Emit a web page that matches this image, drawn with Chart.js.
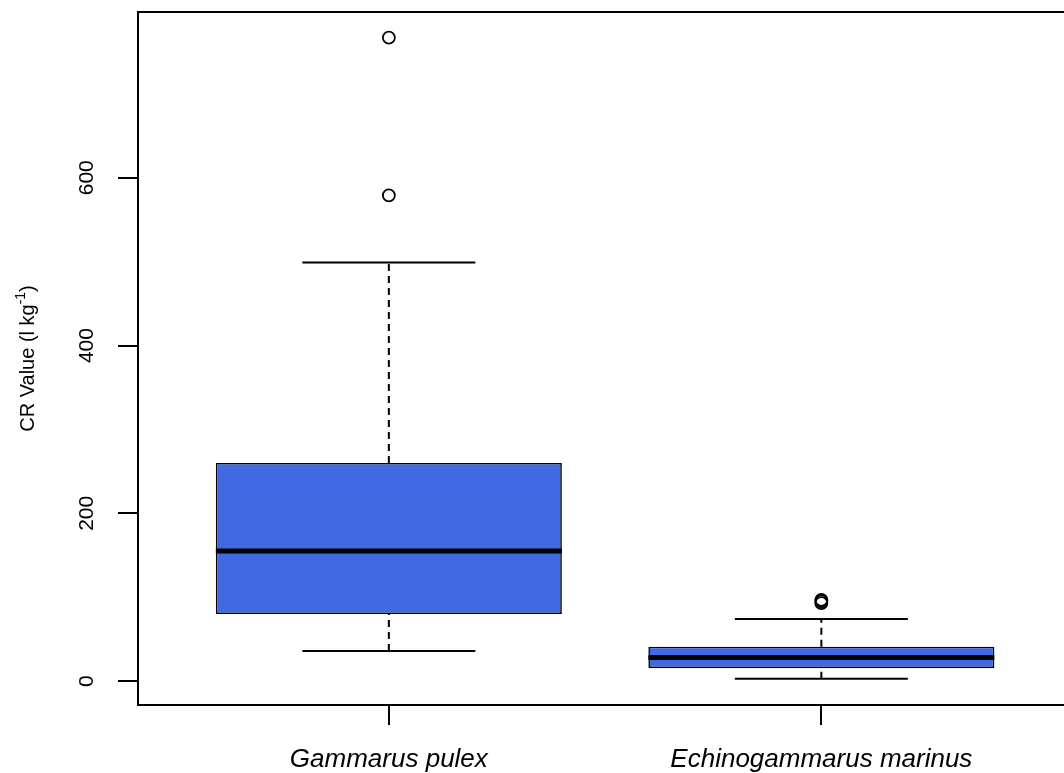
<!DOCTYPE html>
<html>
<head>
<meta charset="utf-8">
<script src="https://cdn.jsdelivr.net/npm/chart.js@4"></script>
<style>
html,body{margin:0;padding:0;background:#fff;overflow:hidden;width:1064px;height:773px;}
canvas{display:block;}
</style>
</head>
<body>
<canvas id="c" width="1080" height="773"></canvas>
<script>
const categories = ['Gammarus pulex', 'Echinogammarus marinus'];
const positions = [1, 2];
const lowerWhisker = [36, 3];
const q1 = [80, 15.5];
const median = [155, 28.2];
const q3 = [260, 41];
const upperWhisker = [499, 74];
const outliers = [[579, 767], [93, 95, 97]];
const yTicks = [0, 200, 400, 600];
const yTitle = 'CR Value (l kg';
const yTitleSup = '-1';

const FONT = '"Liberation Sans", Arial, sans-serif';
const BLUE = '#4169E1';

const datasets = [];
datasets.push({
  type: 'bar',
  data: positions.map((x, i) => ({x: x, y: [q1[i], q3[i]]})),
  backgroundColor: BLUE,
  borderColor: '#000',
  borderWidth: 1.6,
  borderSkipped: false,
  barPercentage: 0.8,
  categoryPercentage: 1.0,
  order: 10
});
positions.forEach((x, i) => {
  const lineBase = {type: 'line', pointRadius: 0, borderColor: '#000', fill: false, order: 1, borderCapStyle: 'butt'};
  datasets.push(Object.assign({}, lineBase, {data: [{x: x - 0.4, y: median[i]}, {x: x + 0.4, y: median[i]}], borderWidth: 5}));
  datasets.push(Object.assign({}, lineBase, {data: [{x: x - 0.2, y: lowerWhisker[i]}, {x: x + 0.2, y: lowerWhisker[i]}], borderWidth: 2}));
  datasets.push(Object.assign({}, lineBase, {data: [{x: x - 0.2, y: upperWhisker[i]}, {x: x + 0.2, y: upperWhisker[i]}], borderWidth: 2}));
  datasets.push(Object.assign({}, lineBase, {data: [{x: x, y: q3[i]}, {x: x, y: upperWhisker[i]}], borderWidth: 2, borderDash: [7, 5]}));
  datasets.push(Object.assign({}, lineBase, {data: [{x: x, y: lowerWhisker[i]}, {x: x, y: q1[i]}], borderWidth: 2, borderDash: [7, 5]}));
  datasets.push({
    type: 'scatter',
    data: outliers[i].map(v => ({x: x, y: v})),
    pointRadius: 6,
    pointStyle: 'circle',
    pointBackgroundColor: 'rgba(255,255,255,0)',
    pointBorderColor: '#000',
    pointBorderWidth: 1.8,
    showLine: false,
    order: 0
  });
});

const framePlugin = {
  id: 'frame',
  afterDraw(chart) {
    const ctx = chart.ctx, a = chart.chartArea;
    ctx.save();
    ctx.strokeStyle = '#000';
    ctx.lineWidth = 2;
    ctx.strokeRect(a.left, a.top, a.right - a.left, a.bottom - a.top);
    // y tick labels, rotated as in R
    const ys = chart.scales.y;
    ctx.fillStyle = '#000';
    ctx.font = '21px ' + FONT;
    ctx.textAlign = 'center';
    ctx.textBaseline = 'middle';
    yTicks.forEach(v => {
      const py = ys.getPixelForValue(v);
      ctx.save();
      ctx.translate(87, py);
      ctx.rotate(-Math.PI / 2);
      ctx.fillText(String(v), 0, 0);
      ctx.restore();
    });
    // y title with superscript
    ctx.save();
    const cy = (a.top + a.bottom) / 2;
    ctx.translate(28, cy);
    ctx.rotate(-Math.PI / 2);
    ctx.font = '20px ' + FONT;
    const w1 = ctx.measureText(yTitle).width;
    ctx.font = '14px ' + FONT;
    const w2 = ctx.measureText(yTitleSup).width;
    ctx.font = '20px ' + FONT;
    const w3 = ctx.measureText(')').width;
    const total = w1 + w2 + w3;
    let xx = -total / 2;
    ctx.textAlign = 'left';
    ctx.fillText(yTitle, xx, 0);
    xx += w1;
    ctx.font = '14px ' + FONT;
    ctx.fillText(yTitleSup, xx, -7);
    xx += w2;
    ctx.font = '20px ' + FONT;
    ctx.fillText(')', xx, 0);
    ctx.restore();
    ctx.restore();
  }
};

new Chart(document.getElementById('c'), {
  type: 'bar',
  data: {datasets: datasets},
  options: {
    responsive: false,
    animation: false,
    devicePixelRatio: 1,
    layout: {padding: {top: 12, right: 7, left: 0, bottom: 0}},
    plugins: {legend: {display: false}, tooltip: {enabled: false}},
    scales: {
      x: {
        type: 'linear',
        min: 0.42,
        max: 2.58,
        offset: false,
        afterBuildTicks: s => { s.ticks = positions.map(v => ({value: v})); },
        afterFit: s => { s.height = 68; },
        grid: {display: true, offset: false, drawOnChartArea: false, drawTicks: true, tickLength: 20, color: '#000', lineWidth: 2},
        border: {display: false},
        ticks: {
          callback: (v) => categories[positions.indexOf(v)],
          color: '#000',
          font: {family: FONT, size: 26, style: 'italic'},
          padding: 19,
          maxRotation: 0,
          minRotation: 0,
          autoSkip: false
        }
      },
      y: {
        type: 'linear',
        min: -28.4,
        max: 797.5,
        afterBuildTicks: s => { s.ticks = yTicks.map(v => ({value: v})); },
        afterFit: s => { s.width = 138; },
        grid: {display: true, drawOnChartArea: false, drawTicks: true, tickLength: 20, color: '#000', lineWidth: 2},
        border: {display: false},
        ticks: {display: false}
      }
    }
  },
  plugins: [framePlugin]
});
</script>
</body>
</html>
